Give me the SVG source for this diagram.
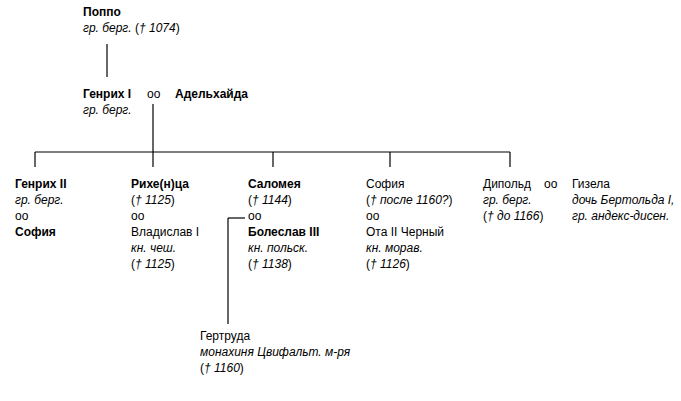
<svg xmlns="http://www.w3.org/2000/svg" width="681" height="401" viewBox="0 0 681 401">
<style>
text{font-family:"Liberation Sans",Arial,sans-serif;font-size:12px;fill:#000}
.b{font-weight:bold}
.i{font-style:italic}
line{stroke:#000;stroke-width:1.2;fill:none}
</style>
<rect width="681" height="401" fill="#fff"/>
<g id="connectors">
<line x1="107" y1="44" x2="107" y2="77"/>
<line x1="153" y1="104" x2="153" y2="152"/>
<line x1="35" y1="152" x2="510" y2="152"/>
<line x1="35" y1="152" x2="35" y2="167"/>
<line x1="153" y1="152" x2="153" y2="167"/>
<line x1="273" y1="152" x2="273" y2="167"/>
<line x1="390" y1="152" x2="390" y2="167"/>
<line x1="510" y1="152" x2="510" y2="167"/>
<line x1="228" y1="218" x2="245" y2="218"/>
<line x1="228" y1="218" x2="228" y2="324"/>
</g>
<g id="poppo"><text x="83" y="16" class="b">Поппо</text><text x="83" y="32"><tspan class="i">гр. берг.</tspan> (<tspan class="i">† 1074</tspan>)</text></g>
<g id="henrich1"><text x="83" y="98" class="b">Генрих I</text><text x="83" y="114" class="i">гр. берг.</text><text x="147" y="98">оо</text><text x="175" y="98" class="b">Адельхайда</text></g>
<g id="henrich2"><text x="15" y="188" class="b">Генрих II</text><text x="15" y="204" class="i">гр. берг.</text><text x="15" y="220">оо</text><text x="15" y="236" class="b">София</text></g>
<g id="richenza"><text x="131" y="188" class="b">Рихе(н)ца</text><text x="131" y="204">(<tspan class="i">† 1125</tspan>)</text><text x="131" y="220">оо</text><text x="131" y="236">Владислав I</text><text x="131" y="252" class="i">кн. чеш.</text><text x="131" y="268">(<tspan class="i">† 1125</tspan>)</text></g>
<g id="salomea"><text x="248" y="188" class="b">Саломея</text><text x="248" y="204">(<tspan class="i">† 1144</tspan>)</text><text x="248" y="220">оо</text><text x="248" y="236" class="b">Болеслав III</text><text x="248" y="252" class="i">кн. польск.</text><text x="248" y="268">(<tspan class="i">† 1138</tspan>)</text></g>
<g id="sofia"><text x="366" y="188">София</text><text x="366" y="204">(<tspan class="i">† после 1160?</tspan>)</text><text x="366" y="220">оо</text><text x="366" y="236">Ота II Черный</text><text x="366" y="252" class="i">кн. морав.</text><text x="366" y="268">(<tspan class="i">† 1126</tspan>)</text></g>
<g id="dipold"><text x="483" y="188">Дипольд</text><text x="483" y="204" class="i">гр. берг.</text><text x="483" y="220">(<tspan class="i">† до 1166</tspan>)</text><text x="544" y="188">оо</text></g>
<g id="gisela"><text x="572" y="188">Гизела</text><text x="572" y="204" class="i">дочь Бертольда I,</text><text x="572" y="220" class="i">гр. андекс-дисен.</text></g>
<g id="gertruda"><text x="200" y="340">Гертруда</text><text x="200" y="356" class="i">монахиня Цвифальт. м-ря</text><text x="200" y="372">(<tspan class="i">† 1160</tspan>)</text></g>
</svg>
